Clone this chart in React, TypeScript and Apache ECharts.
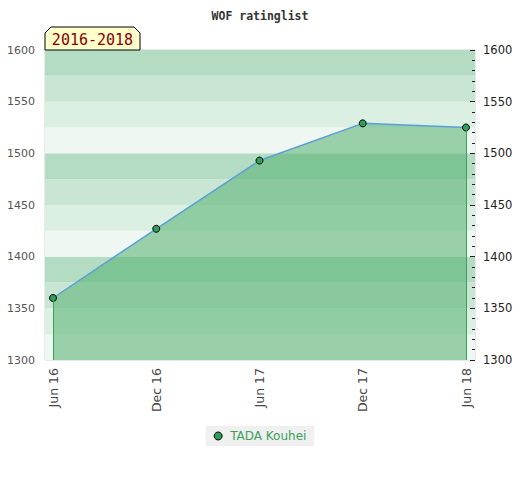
import React, { useEffect, useRef } from "react";
import * as echarts from "echarts";

const categories = ["Jun 16", "Dec 16", "Jun 17", "Dec 17", "Jun 18"];
const ratings = [1360, 1427, 1493, 1529, 1525];
const seriesName = "TADA Kouhei";
const chartTitle = "WOF ratinglist";
const periodLabel = "2016-2018";
const stripeColors = ["#eef7f1", "#dcefe3", "#c9e6d4", "#b3dcc2"];

export default function App() {
  const ref = useRef<HTMLDivElement>(null);
  useEffect(() => {
    if (!ref.current) return;
    const chart = echarts.init(ref.current, undefined, { renderer: "svg" });
    const last = categories.length - 1;
    const plain = (v: number) => String(v);
    chart.setOption({
      animation: false,
      backgroundColor: "#ffffff",
      title: {
        text: chartTitle,
        left: "center",
        top: 5,
        textStyle: {
          fontFamily: "DejaVu Sans Mono",
          fontSize: 11.5,
          fontWeight: "bold",
          color: "#333333",
        },
      },
      legend: {
        bottom: 34,
        left: "center",
        backgroundColor: "#f0f0f0",
        padding: [4, 8, 4, 8],
        itemWidth: 8,
        itemHeight: 8,
        itemGap: 6,
        icon: "circle",
        textStyle: {
          color: "#3aa05a",
          fontSize: 12,
          fontFamily: "DejaVu Sans",
          padding: [0, 0, 0, 3],
        },
        data: [
          {
            name: seriesName,
            itemStyle: { color: "#2e9e5a", borderColor: "#000", borderWidth: 1 },
          },
        ],
      },
      grid: [
        {
          left: 45,
          right: 45,
          top: 50,
          bottom: 120,
          show: true,
          borderColor: "#d4d4d4",
          borderWidth: 1,
          backgroundColor: "transparent",
        },
        { left: 53, right: 54, top: 50, bottom: 120 },
      ],
      xAxis: [
        {
          gridIndex: 0,
          type: "value",
          min: 0,
          max: 1,
          show: false,
        },
        {
          gridIndex: 1,
          type: "category",
          data: categories,
          boundaryGap: false,
          axisLine: { show: false },
          axisTick: { show: false },
          splitLine: { show: false },
          axisLabel: {
            rotate: 90,
            margin: 8,
            color: "#444",
            fontSize: 12.5,
            fontFamily: "DejaVu Sans",
          },
        },
      ],
      yAxis: [
        {
          gridIndex: 0,
          type: "value",
          min: 1300,
          max: 1600,
          interval: 25,
          axisLine: { show: false },
          axisTick: { show: false },
          axisLabel: { show: false },
          splitLine: { show: false },
          splitArea: { show: true, areaStyle: { color: stripeColors } },
        },
        {
          gridIndex: 0,
          type: "value",
          position: "left",
          min: 1300,
          max: 1600,
          interval: 50,
          axisLine: { show: false },
          axisTick: { show: false },
          splitLine: { show: false },
          axisLabel: {
            color: "#555",
            fontSize: 11,
            margin: 10,
            fontFamily: "DejaVu Sans",
            formatter: plain,
          },
        },
        {
          gridIndex: 0,
          type: "value",
          position: "right",
          min: 1300,
          max: 1600,
          interval: 50,
          axisLine: { show: false },
          axisTick: { show: true, inside: true, length: 5, lineStyle: { color: "#222" } },
          minorTick: { show: true, splitNumber: 5, length: 3, lineStyle: { color: "#222" } },
          splitLine: { show: false },
          axisLabel: {
            color: "#222",
            fontSize: 11.5,
            margin: 8,
            fontFamily: "DejaVu Sans",
            formatter: plain,
          },
        },
        {
          gridIndex: 1,
          type: "value",
          min: 1300,
          max: 1600,
          show: false,
        },
      ],
      series: [
        {
          name: seriesName,
          type: "line",
          xAxisIndex: 1,
          yAxisIndex: 3,
          data: ratings,
          symbol: "circle",
          symbolSize: 7,
          itemStyle: { color: "#2e9e5a", borderColor: "#000", borderWidth: 1 },
          lineStyle: { color: "#5a9fd8", width: 1.5 },
          areaStyle: { color: "#54b070", opacity: 0.55, origin: "start" },
          z: 3,
          markLine: {
            silent: true,
            symbol: "none",
            label: { show: false },
            lineStyle: { color: "#3aa05a", width: 1, type: "solid" },
            data: [
              [
                { coord: [categories[0], ratings[0]] },
                { coord: [categories[0], 1300] },
              ],
              [
                { coord: [categories[last], ratings[last]] },
                { coord: [categories[last], 1300] },
              ],
            ],
          },
        },
      ],
      graphic: [
        {
          type: "polygon",
          shape: {
            points: [
              [45, 50],
              [45, 33],
              [51, 27],
              [134, 27],
              [140, 33],
              [140, 50],
            ],
          },
          style: { fill: "#ffffcc", stroke: "#000", lineWidth: 1 },
          z: 10,
        },
        {
          type: "text",
          x: 92.5,
          y: 40,
          style: {
            text: periodLabel,
            fill: "#8b0000",
            font: "15px 'DejaVu Sans Mono'",
            align: "center",
            verticalAlign: "middle",
          },
          z: 11,
        },
      ],
    });
    return () => chart.dispose();
  }, []);
  return (
    <div
      ref={ref}
      style={{ position: "absolute", left: 0, top: 0, width: 520, height: 480 }}
    />
  );
}
